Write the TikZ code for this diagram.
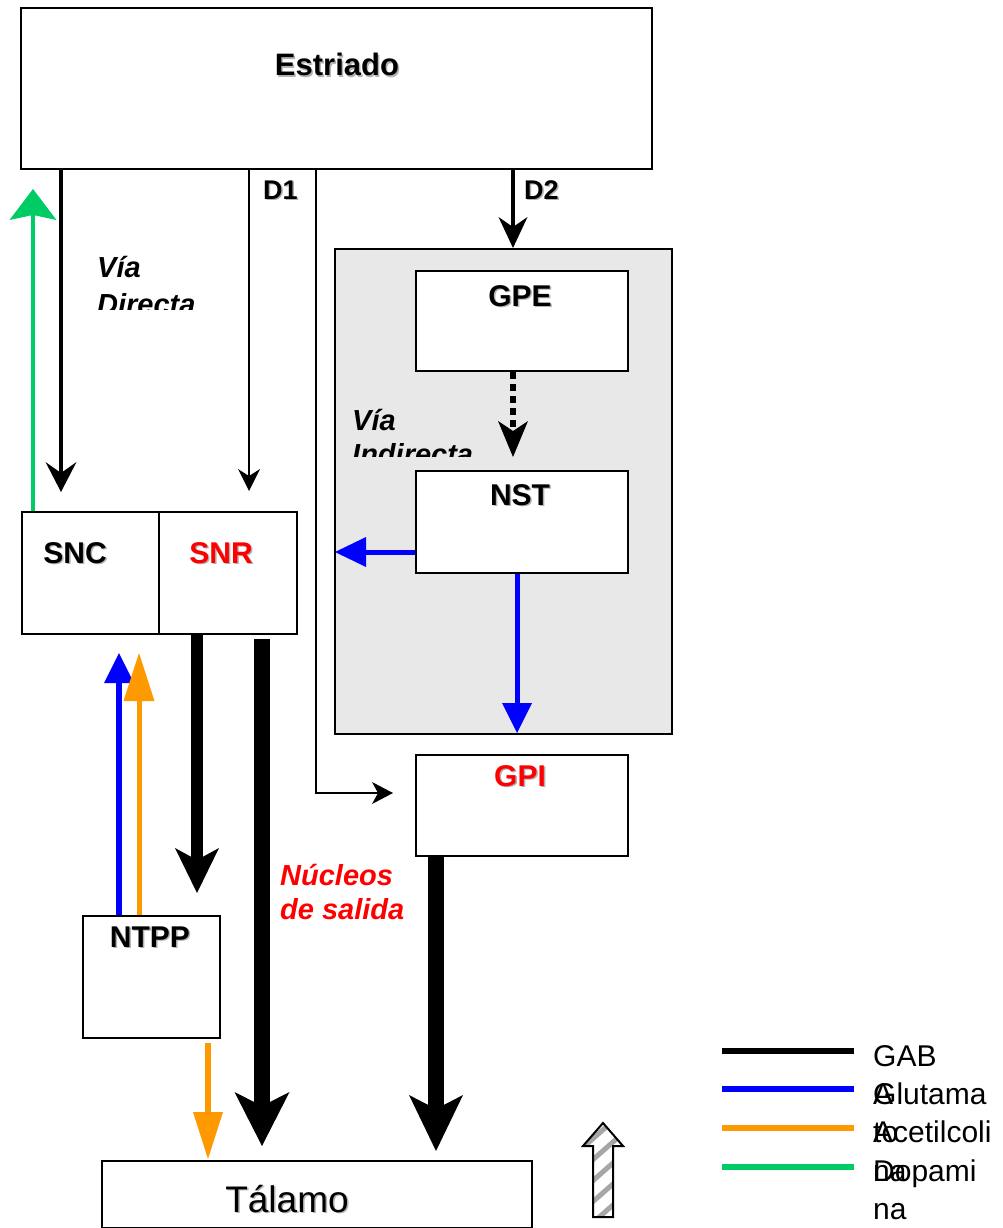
\documentclass[tikz,border=0pt]{standalone}
\usepackage{fontspec}
\setmainfont{Liberation Sans}
\usetikzlibrary{arrows.meta,calc}
\definecolor{cgreen}{RGB}{0,204,102}
\definecolor{cblue}{RGB}{0,0,255}
\definecolor{corange}{RGB}{255,153,0}
\definecolor{cred}{RGB}{255,0,0}
\definecolor{cgray}{RGB}{232,232,232}
\newcommand\shd[1]{\leavevmode\rlap{\kern1.5pt\raisebox{-1.5pt}{\textcolor{black!30}{#1}}}#1}
\begin{document}
\begin{tikzpicture}[x=1pt,y=-1pt,
  box/.style={draw,line width=2pt,inner sep=0pt,anchor=north west,fill=white},
  lbl/.style={font=\fontsize{30}{36}\selectfont\bfseries,anchor=base,inner sep=0pt},
  dlbl/.style={font=\fontsize{27}{32}\selectfont\bfseries,anchor=base west,inner sep=0pt},
  itl/.style={font=\fontsize{29}{35}\selectfont\bfseries\itshape,anchor=base west,inner sep=0pt},
  leg/.style={font=\fontsize{30}{36}\selectfont,anchor=base west,inner sep=0pt},
  thin/.style={line width=2.5pt},
  mid/.style={line width=4.5pt},
  fat/.style={line width=16pt}
]
\useasboundingbox (0,0) rectangle (1003,1228);

% boxes
\node[box,minimum width=631pt,minimum height=161pt] (estr) at (20,7) {};
\node[box,fill=cgray,minimum width=337pt,minimum height=485pt] (gbox) at (334,248) {};
\node[box,minimum width=212pt,minimum height=100pt] (gpe) at (415,270) {};
\node[box,minimum width=212pt,minimum height=102pt] (nst) at (415,470) {};
\node[box,minimum width=212pt,minimum height=101pt] (gpi) at (415,754) {};
\node[box,minimum width=137pt,minimum height=122pt] (snc) at (21,511) {};
\node[box,minimum width=138pt,minimum height=122pt] (snr) at (158,511) {};
\node[box,minimum width=137pt,minimum height=122pt] (ntpp) at (82,915) {};
\node[box,minimum width=430pt,minimum height=67pt] (tal) at (101,1160) {};

% labels
\node[lbl,font=\fontsize{31}{36}\selectfont\bfseries] (estrT) at (337,76) {\shd{Estriado}};
\node[dlbl] (d1T) at (263,199) {\shd{D1}};
\node[dlbl] (d2T) at (524,199) {\shd{D2}};
\node[lbl] (gpeT) at (520,306) {\shd{GPE}};
\node[lbl] (nstT) at (520,505) {\shd{NST}};
\node[lbl,text=cred] (gpiT) at (520,786) {\shd{GPI}};
\node[lbl] (sncT) at (75,563) {\shd{SNC}};
\node[lbl,text=cred] (snrT) at (221,563) {\shd{SNR}};
\node[lbl] (ntppT) at (150,947) {\shd{NTPP}};
\node[anchor=base,inner sep=0pt,font=\fontsize{37}{44}\selectfont] (talT) at (287,1212) {\shd{Tálamo}};

\begin{scope}
\clip (80,230) rectangle (240,309);
\node[itl] (vd1) at (97,277) {Vía};
\node[itl] (vd2) at (97,314) {Directa};
\end{scope}
\begin{scope}
\clip (340,380) rectangle (500,456);
\node[itl] (vi1) at (352,430) {Vía};
\node[itl] (vi2) at (352,464) {Indirecta};
\end{scope}
\node[itl,text=cred] (ns1) at (280,885) {Núcleos};
\node[itl,text=cred] (ns2) at (280,919) {de salida};

% free ends
\coordinate (vdE) at (61,492);
\coordinate (daE) at (33,189);
\coordinate (d1E) at (249,491);
\coordinate (d1c) at (316,793);
\coordinate (d1g) at (393,793);
\coordinate (d2x) at (513,0);
\coordinate (dotE) at (513,457);
\coordinate (nstL) at (335,552);
\coordinate (nstD) at (517,733);
\coordinate (sA) at (197,893);
\coordinate (sB) at (262,1146);
\coordinate (gE) at (436,1151);
\coordinate (nb) at (119,653);
\coordinate (no) at (139,653);
\coordinate (nt) at (208,1159);

% connectors
\draw[mid,-{Stealth[length=30pt,width=31pt,inset=11pt,line width=0pt]}] (estr.south -| vdE) -- (vdE);
\draw[mid,cgreen,-{Stealth[length=31pt,width=47pt,inset=5pt,line width=0pt]}] (snc.north -| daE) -- (daE);
\draw[thin,-{Stealth[length=22pt,width=22pt,inset=7pt,line width=0pt]}] (estr.south -| d1E) -- (d1E);
\draw[thin,-{Stealth[length=21pt,width=22pt,inset=6pt,line width=0pt]}] (estr.south -| d1c) -- (d1c) -- (d1g);
\draw[mid,-{Stealth[length=31pt,width=29pt,inset=10pt,line width=0pt]}] (estr.south -| d2x) -- (gbox.north -| d2x);
\draw[line width=6pt,dash pattern=on 7pt off 5pt,-{Stealth[length=36pt,width=30pt,inset=10pt,line width=0pt]}] (gpe.south -| dotE) -- (dotE);
\draw[line width=5pt,cblue,-{Triangle[length=31pt,width=30pt,line width=0pt]}] (nst.west |- nstL) -- (nstL);
\draw[line width=5pt,cblue,-{Triangle[length=30pt,width=30pt,line width=0pt]}] (nst.south -| nstD) -- (nstD);
\draw[line width=12pt,-{Stealth[length=45pt,width=44pt,inset=12pt,line width=0pt]}] (snr.south -| sA) -- (sA);
\draw[fat,-{Stealth[length=54pt,width=55pt,inset=14pt,line width=0pt]}] ($(snr.south -| sB)+(0,4)$) -- (sB);
\draw[fat,-{Stealth[length=56pt,width=54pt,inset=14pt,line width=0pt]}] (gpi.south -| gE) -- (gE);
\draw[line width=5.5pt,cblue,-{Triangle[length=30pt,width=30pt,line width=0pt]}] (ntpp.north -| nb) -- (nb);
\draw[line width=5pt,corange,-{Triangle[length=48pt,width=31pt,line width=0pt]}] (ntpp.north -| no) -- (no);
\draw[line width=6pt,corange,-{Triangle[length=47pt,width=30pt,line width=0pt]}] ($(ntpp.south -| nt)+(0,4)$) -- (nt);

% hatched block arrow
\begin{scope}
\path[fill=white] (593,1217) -- (593,1146) -- (583,1146) -- (603,1123) -- (623,1146) -- (613,1146) -- (613,1217) -- cycle;
\clip (593,1217) -- (593,1146) -- (583,1146) -- (603,1123) -- (623,1146) -- (613,1146) -- (613,1217) -- cycle;
\foreach \k in {0,...,6} \draw[black!35,line width=5pt] (580,1150+\k*21) -- (630,1106+\k*21);
\end{scope}
\draw[line width=2pt,line join=miter] (593,1217) -- (593,1146) -- (583,1146) -- (603,1123) -- (623,1146) -- (613,1146) -- (613,1217) -- cycle;

% legend
\coordinate (l1a) at (722,1051); \coordinate (l1b) at (854,1051);
\coordinate (l2a) at (722,1089); \coordinate (l2b) at (854,1089);
\coordinate (l3a) at (722,1128); \coordinate (l3b) at (854,1128);
\coordinate (l4a) at (722,1167); \coordinate (l4b) at (854,1167);
\draw[line width=6pt] (l1a) -- (l1b);
\draw[line width=6pt,cblue] (l2a) -- (l2b);
\draw[line width=6pt,corange] (l3a) -- (l3b);
\draw[line width=6pt,cgreen] (l4a) -- (l4b);
\node[leg] (g1) at (873,1066) {GAB};
\node[leg] (g2) at (873,1104) {A};
\node[leg] (g3) at (873,1104) {Glutama};
\node[leg] (g4) at (873,1142) {to};
\node[leg] (g5) at (873,1142) {Acetilcoli};
\node[leg] (g6) at (873,1181) {na};
\node[leg] (g7) at (873,1181) {Dopami};
\node[leg] (g8) at (873,1219) {na};
\end{tikzpicture}
\end{document}
